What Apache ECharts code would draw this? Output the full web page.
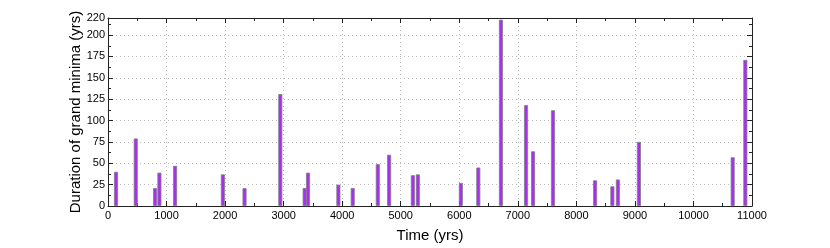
<!DOCTYPE html>
<html><head><meta charset="utf-8">
<script src="https://cdn.jsdelivr.net/npm/echarts@6/dist/echarts.min.js"></script>
<style>html,body{margin:0;padding:0;background:#fff}#c{width:830px;height:248px}</style>
</head><body><div id="c"></div>
<script>
// Start time of each grand minimum (yrs)
const times = [137, 474, 804, 878, 1146, 1962, 2332, 2943, 3359, 3416, 3935, 4180, 4608, 4802, 5207, 5292, 6027, 6325, 6712, 7140, 7260, 7601, 8320, 8615, 8709, 9068, 10670, 10886];
// Duration of each grand minimum (yrs)
const durations = [40, 79, 21, 39, 47, 37, 21, 131, 21, 39, 25, 21, 49, 60, 36, 37, 27, 45, 218, 118, 64, 112, 30, 23, 31, 75, 57, 171];
const xLabel = 'Time (yrs)';
const yLabel = 'Duration of grand minima (yrs)';

const font = 'Liberation Sans, Arial, Helvetica, sans-serif';
const chart = echarts.init(document.getElementById('c'), null, {renderer: 'canvas'});
function axisParts() {
  return {
    axisLine: {show: true, onZero: false, lineStyle: {color: '#222', width: 1}},
    axisTick: {show: true, inside: true, length: 5, lineStyle: {color: '#222'}},
    minorTick: {show: true, splitNumber: 2, length: 3, lineStyle: {color: '#222'}},
  };
}
const plain = v => String(v);
chart.setOption({
  animation: false,
  grid: {left: 108, right: 78, top: 18, bottom: 32, containLabel: false},
  xAxis: [Object.assign({
    type: 'value', min: 0, max: 11000, interval: 1000, position: 'bottom',
    name: xLabel, nameLocation: 'middle', nameGap: 22, nameMoveOverlap: false,
    nameTextStyle: {fontFamily: font, fontSize: 15, color: '#000'},
    axisLabel: {fontFamily: font, fontSize: 11, color: '#000', margin: 4, formatter: plain},
    splitLine: {show: true, lineStyle: {color: '#bbb', type: [1, 3], width: 1}}
  }, axisParts()), Object.assign({
    type: 'value', min: 0, max: 11000, interval: 1000, position: 'top',
    axisLabel: {show: false}, splitLine: {show: false}
  }, axisParts())],
  yAxis: [Object.assign({
    type: 'value', min: 0, max: 220, interval: 25, position: 'left',
    name: yLabel, nameLocation: 'middle', nameGap: 25, nameMoveOverlap: false,
    nameTextStyle: {fontFamily: font, fontSize: 15, color: '#000'},
    axisLabel: {fontFamily: font, fontSize: 11, color: '#000', margin: 3, showMaxLabel: true, formatter: plain},
    splitLine: {show: true, lineStyle: {color: '#bbb', type: [1, 3], width: 1}}
  }, axisParts()), Object.assign({
    type: 'value', min: 0, max: 220, interval: 25, position: 'right',
    axisLabel: {show: false}, splitLine: {show: false}
  }, axisParts())],
  series: [{
    type: 'bar',
    barWidth: 4,
    data: times.map((t, i) => [t, durations[i]]),
    itemStyle: {color: '#a82ef2', borderColor: '#808080', borderWidth: 0.8}
  }]
});
</script></body></html>
